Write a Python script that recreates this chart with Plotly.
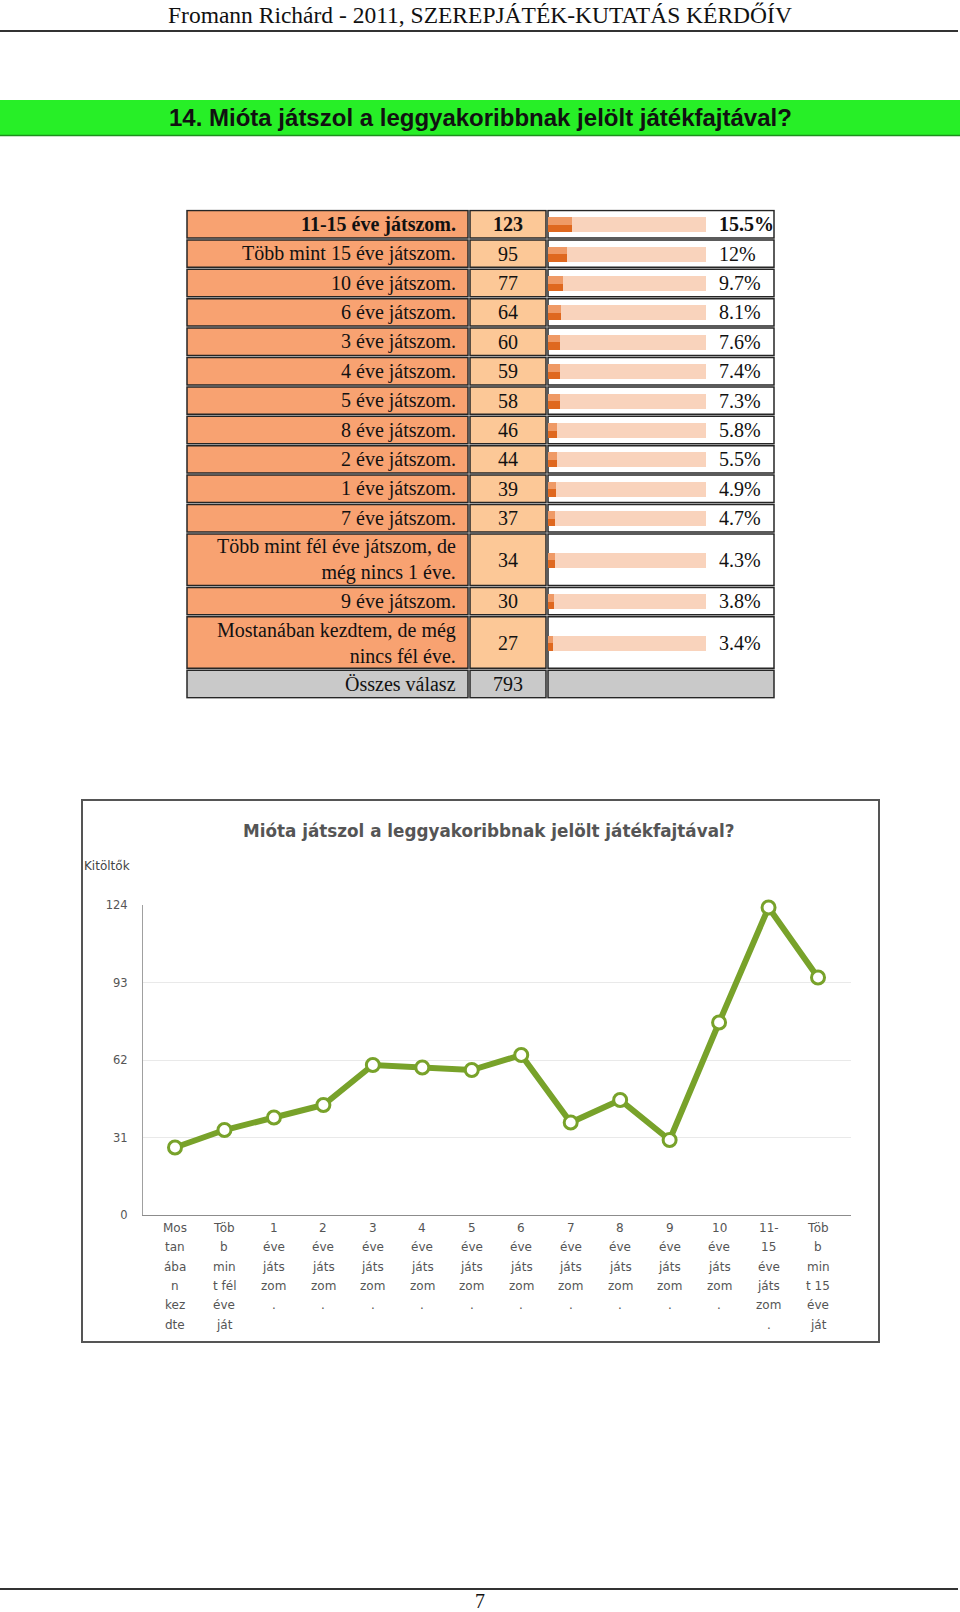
import plotly.graph_objects as go

W, H = 960, 1612

# ---------------- data ----------------
header_text = "Fromann Richárd - 2011, SZEREPJÁTÉK-KUTATÁS KÉRDŐÍV"
section_title = "14. Mióta játszol a leggyakoribbnak jelölt játékfajtával?"
chart_title = "Mióta játszol a leggyakoribbnak jelölt játékfajtával?"
y_axis_title = "Kitöltők"
page_number = "7"

table_labels = [
    "11-15 éve játszom.",
    "Több mint 15 éve játszom.",
    "10 éve játszom.",
    "6 éve játszom.",
    "3 éve játszom.",
    "4 éve játszom.",
    "5 éve játszom.",
    "8 éve játszom.",
    "2 éve játszom.",
    "1 éve játszom.",
    "7 éve játszom.",
    "Több mint fél éve játszom, de<br>még nincs 1 éve.",
    "9 éve játszom.",
    "Mostanában kezdtem, de még<br>nincs fél éve.",
]
table_counts = [123, 95, 77, 64, 60, 59, 58, 46, 44, 39, 37, 34, 30, 27]
table_pcts = [15.5, 12, 9.7, 8.1, 7.6, 7.4, 7.3, 5.8, 5.5, 4.9, 4.7, 4.3, 3.8, 3.4]
table_pct_text = ["15.5%", "12%", "9.7%", "8.1%", "7.6%", "7.4%", "7.3%", "5.8%",
                  "5.5%", "4.9%", "4.7%", "4.3%", "3.8%", "3.4%"]
total_label = "Összes válasz"
total_count = 793

chart_categories = [
    "Mostanában kezdtem, de még nincs fél éve.",
    "Több mint fél éve játszom, de még nincs 1 éve.",
    "1 éve játszom.", "2 éve játszom.", "3 éve játszom.", "4 éve játszom.",
    "5 éve játszom.", "6 éve játszom.", "7 éve játszom.", "8 éve játszom.",
    "9 éve játszom.", "10 éve játszom.", "11-15 éve játszom.",
    "Több mint 15 éve játszom.",
]
chart_values = [27, 34, 39, 44, 60, 59, 58, 64, 37, 46, 30, 77, 123, 95]
chart_tick_lines = [
    ["Mos", "tan", "ába", "n", "kez", "dte"],
    ["Töb", "b", "min", "t fél", "éve", "ját"],
    ["1", "éve", "játs", "zom", "."],
    ["2", "éve", "játs", "zom", "."],
    ["3", "éve", "játs", "zom", "."],
    ["4", "éve", "játs", "zom", "."],
    ["5", "éve", "játs", "zom", "."],
    ["6", "éve", "játs", "zom", "."],
    ["7", "éve", "játs", "zom", "."],
    ["8", "éve", "játs", "zom", "."],
    ["9", "éve", "játs", "zom", "."],
    ["10", "éve", "játs", "zom", "."],
    ["11-", "15", "éve", "játs", "zom", "."],
    ["Töb", "b", "min", "t 15", "éve", "ját"],
]
y_ticks = [0, 31, 62, 93, 124]

# ---------------- helpers ----------------
def fx(px):
    return px / W

def fy(py):
    return 1 - py / H

SERIF = "Liberation Serif, Times New Roman, serif"
SANS = "DejaVu Sans, Verdana, sans-serif"

LABEL_FILL = "#F8A271"
COUNT_FILL = "#FCC897"
TOTAL_FILL = "#C9C9C9"
BORDER = "#262626"
GREEN = "#78A22A"

shapes = []
annotations = []

# header
annotations.append(dict(x=fx(480), y=fy(15), xref="paper", yref="paper", text=header_text,
                        showarrow=False, font=dict(family=SERIF, size=23.5, color="#111"),
                        xanchor="center", yanchor="middle"))
shapes.append(dict(type="line", xref="paper", yref="paper", x0=0, x1=fx(958), y0=fy(31), y1=fy(31),
                   line=dict(color="#333", width=2)))

# green section bar
shapes.append(dict(type="rect", xref="paper", yref="paper", x0=0, x1=1, y0=fy(136), y1=fy(100),
                   fillcolor="#27EF27", line=dict(width=0), layer="below"))
shapes.append(dict(type="line", xref="paper", yref="paper", x0=0, x1=1, y0=fy(135.5), y1=fy(135.5),
                   line=dict(color="#1d8f1d", width=1.5)))
annotations.append(dict(x=fx(480), y=fy(117), xref="paper", yref="paper", text="<b>" + section_title + "</b>",
                        showarrow=False, font=dict(family="Liberation Sans, Arial, sans-serif", size=24, color="#111"),
                        xanchor="center", yanchor="middle"))

# ---------------- table ----------------
TABLE_TOP = 209.5
SINGLE_H, DOUBLE_H = 29.4, 53.5
row_heights = [DOUBLE_H if "<br>" in l else SINGLE_H for l in table_labels] + [SINGLE_H]
tops = []
acc = 0.0
for h in row_heights:
    tops.append(acc)
    acc += h
TABLE_H = acc
centers = [t + h / 2 for t, h in zip(tops, row_heights)]

COL_X = [186, 469, 547, 775]

for i, (t, h) in enumerate(zip(tops, row_heights)):
    is_total = i == len(row_heights) - 1
    fills = [TOTAL_FILL, TOTAL_FILL, TOTAL_FILL] if is_total else [LABEL_FILL, COUNT_FILL, "white"]
    for c in range(3):
        shapes.append(dict(type="rect", xref="paper", yref="y2",
                           x0=fx(COL_X[c] + 1), x1=fx(COL_X[c + 1] - 1),
                           y0=t + 1, y1=t + h - 1,
                           fillcolor=fills[c], line=dict(color=BORDER, width=1.5), layer="below"))

for i, lab in enumerate(table_labels):
    bold = i == 0
    wrap = (lambda s: "<b>" + s + "</b>") if bold else (lambda s: s)
    annotations.append(dict(x=fx(458), y=centers[i], xref="paper", yref="y2", text=wrap(lab),
                            showarrow=False, align="right", xanchor="right", yanchor="middle",
                            font=dict(family=SERIF, size=20, color="#111")))
    annotations.append(dict(x=fx(508), y=centers[i], xref="paper", yref="y2", text=wrap(str(table_counts[i])),
                            showarrow=False, xanchor="center", yanchor="middle",
                            font=dict(family=SERIF, size=20, color="#111")))
    annotations.append(dict(x=fx(717), y=centers[i], xref="paper", yref="y2", text=wrap(table_pct_text[i]),
                            showarrow=False, xanchor="left", yanchor="middle",
                            font=dict(family=SERIF, size=20, color="#111")))
annotations.append(dict(x=fx(458), y=centers[-1], xref="paper", yref="y2", text=total_label,
                        showarrow=False, xanchor="right", yanchor="middle",
                        font=dict(family=SERIF, size=20, color="#111")))
annotations.append(dict(x=fx(508), y=centers[-1], xref="paper", yref="y2", text=str(total_count),
                        showarrow=False, xanchor="center", yanchor="middle",
                        font=dict(family=SERIF, size=20, color="#111")))

n = len(table_labels)
BAR_W = 15
traces = [
    go.Bar(x=[100] * n, y=centers[:n], orientation="h", width=BAR_W, marker=dict(color="#F9D3BC", line=dict(width=0)),
           xaxis="x2", yaxis="y2", hoverinfo="skip", showlegend=False),
    go.Bar(x=table_pcts, y=centers[:n], orientation="h", width=BAR_W, marker=dict(color="#EF9A66", line=dict(width=0)),
           xaxis="x2", yaxis="y2", showlegend=False, name="%"),
    go.Bar(x=table_pcts, y=centers[:n], orientation="h", width=BAR_W / 2, offset=0,
           marker=dict(color="#DF681F", line=dict(width=0)),
           xaxis="x2", yaxis="y2", showlegend=False, hoverinfo="skip"),
]

# ---------------- line chart ----------------
shapes.append(dict(type="rect", xref="paper", yref="paper", x0=fx(82), x1=fx(879), y0=fy(1342), y1=fy(800),
                   line=dict(color="#555", width=2), fillcolor="rgba(0,0,0,0)"))
annotations.append(dict(x=fx(488), y=fy(831), xref="paper", yref="paper", text="<b>" + chart_title + "</b>",
                        showarrow=False, xanchor="center", yanchor="middle",
                        font=dict(family=SANS, size=16.8, color="#555")))
annotations.append(dict(x=fx(82), y=fy(866), xref="paper", yref="paper", text=y_axis_title,
                        showarrow=False, xanchor="left", yanchor="middle",
                        font=dict(family=SANS, size=12, color="#444")))

traces.append(go.Scatter(
    x=chart_categories, y=chart_values, mode="lines+markers",
    line=dict(color=GREEN, width=6),
    marker=dict(symbol="circle", size=13, color="white", line=dict(color=GREEN, width=3)),
    cliponaxis=False, showlegend=False, xaxis="x", yaxis="y", name="Kitöltők",
))

for i, lines in enumerate(chart_tick_lines):
    for j, t in enumerate(lines):
        annotations.append(dict(x=i, y=fy(1228 + j * 19.3), xref="x", yref="paper", text=t,
                                showarrow=False, xanchor="center", yanchor="middle",
                                font=dict(family=SANS, size=12, color="#555")))

# page footer
shapes.append(dict(type="line", xref="paper", yref="paper", x0=0, x1=fx(958), y0=fy(1589), y1=fy(1589),
                   line=dict(color="#333", width=2)))
annotations.append(dict(x=fx(480), y=fy(1601), xref="paper", yref="paper", text=page_number,
                        showarrow=False, xanchor="center", yanchor="middle",
                        font=dict(family=SERIF, size=20, color="#111")))

fig = go.Figure(traces)
fig.update_layout(
    width=W, height=H, autosize=False,
    margin=dict(l=0, r=0, t=0, b=0, pad=0, autoexpand=False),
    showlegend=False,
    paper_bgcolor="white", plot_bgcolor="rgba(0,0,0,0)",
    barmode="overlay", bargap=0,
    shapes=shapes, annotations=annotations,
    xaxis=dict(domain=[fx(143), fx(851)], type="category", range=[-0.647, 13.667],
               showticklabels=False, showgrid=False, zeroline=False, automargin=False,
               showline=True, linecolor="#8c8c8c", linewidth=1, ticks="", anchor="y"),
    yaxis=dict(domain=[fy(1215), fy(905)], range=[0, 124], tickvals=y_ticks,
               showgrid=True, gridcolor="#e9e9e9", gridwidth=1, zeroline=False, automargin=False,
               showline=True, linecolor="#a0a0a0", linewidth=1, ticks="",
               ticklabelstandoff=12,
               tickfont=dict(family=SANS, size=11.5, color="#555"), anchor="x"),
    xaxis2=dict(domain=[fx(548), fx(706)], range=[0, 100], visible=False, automargin=False, anchor="y2"),
    yaxis2=dict(domain=[fy(TABLE_TOP + TABLE_H), fy(TABLE_TOP)], range=[TABLE_H, 0], visible=False,
                automargin=False, anchor="x2"),
)

fig.write_html(
    "out.html",
    config={"displayModeBar": False},
    post_script="document.body.style.margin='0';document.body.style.padding='0';"
                "document.documentElement.style.overflow='hidden';document.body.style.overflow='hidden';",
)
